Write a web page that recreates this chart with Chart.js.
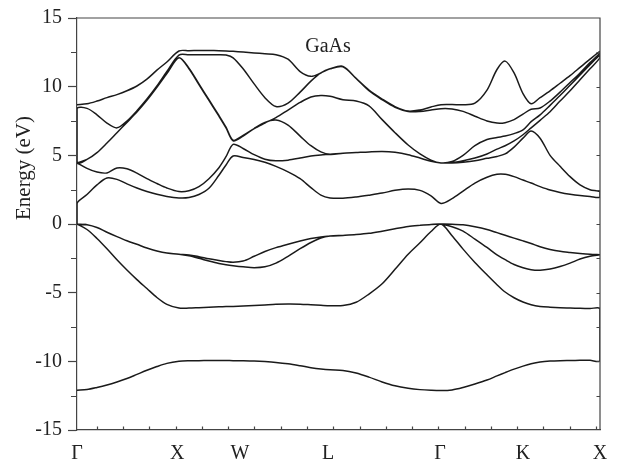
<!DOCTYPE html>
<html>
<head>
<meta charset="utf-8">
<script src="https://cdn.jsdelivr.net/npm/chart.js@4.4.1/dist/chart.umd.min.js"></script>
<style>
html,body{margin:0;padding:0;background:#fff;}
#wrap{width:631px;height:471px;}
</style>
</head>
<body>
<div id="wrap"><canvas id="c" width="631" height="471"></canvas></div>
<script>
// Position of every sample along the Γ-X-W-L-Γ-K-X path
const kpath = [0, 0.38, 0.76, 1.14, 1.52, 1.90, 2.28, 2.66, 3.04, 3.42, 3.88,
  4.26, 4.64, 5.02, 5.40, 5.67, 5.94, 6.32, 6.74, 7.15, 7.57, 8.03, 8.49, 8.90, 9.28, 9.63,
  10.12, 10.62, 11.11, 11.61, 12.10, 12.60, 13.05, 13.47, 13.85,
  14.27, 14.69, 15.14, 15.60, 15.98, 16.29, 16.63, 16.97, 17.28, 17.62, 18.00, 18.38, 18.76, 19.14, 19.52, 19.90];

// High-symmetry points
const symLabels = ['Γ', 'X', 'W', 'L', 'Γ', 'K', 'X'];
const symPos = [0, 3.81, 6.20, 9.55, 13.81, 16.97, 19.90];

// Energy axis labels (eV)
const energyTicks = [-15, -10, -5, 0, 5, 10, 15];

// Band energies (eV) at each kpath sample
const band1 = [-12.1, -12.05, -11.9, -11.72, -11.5, -11.25, -10.95, -10.65, -10.38, -10.15, -10.0,
  -9.96, -9.95, -9.94, -9.94, -9.94, -9.95, -9.96, -9.98, -10.02, -10.08, -10.18, -10.32, -10.46, -10.56, -10.62,
  -10.66, -10.85, -11.15, -11.5, -11.78, -11.96, -12.06, -12.11, -12.13,
  -12.08, -11.9, -11.65, -11.36, -11.06, -10.82, -10.57, -10.35, -10.18, -10.05, -9.98, -9.95, -9.94, -9.93, -9.93, -9.93];
const band2 = [0, -0.4, -1.05, -1.8, -2.6, -3.35, -4.05, -4.7, -5.35, -5.85, -6.12,
  -6.12, -6.09, -6.06, -6.03, -6.01, -6.0, -5.97, -5.93, -5.89, -5.85, -5.83, -5.84, -5.88, -5.92, -5.95,
  -5.94, -5.7, -5.1, -4.35, -3.3, -2.2, -1.36, -0.55, 0,
  -0.85, -1.83, -2.8, -3.7, -4.42, -4.95, -5.37, -5.68, -5.88, -6.0, -6.06, -6.1, -6.12, -6.14, -6.16, -6.17];
const band3 = [0, -0.05, -0.25, -0.6, -0.92, -1.22, -1.48, -1.75, -1.97, -2.12, -2.2,
  -2.32, -2.5, -2.7, -2.88, -2.97, -3.04, -3.12, -3.18, -3.12, -2.85, -2.35, -1.8, -1.35, -1.02, -0.88,
  -0.83, -0.77, -0.68, -0.52, -0.35, -0.19, -0.1, -0.03, 0,
  -0.2, -0.52, -1.1, -1.71, -2.25, -2.6, -2.95, -3.18, -3.33, -3.37, -3.28, -3.1, -2.85, -2.55, -2.35, -2.24];
const band4 = [0, -0.05, -0.25, -0.6, -0.92, -1.22, -1.48, -1.75, -1.97, -2.12, -2.2,
  -2.25, -2.38, -2.53, -2.66, -2.74, -2.79, -2.7, -2.35, -2.0, -1.72, -1.47, -1.24, -1.06, -0.94, -0.88,
  -0.83, -0.77, -0.68, -0.52, -0.35, -0.19, -0.1, -0.03, 0,
  -0.01, -0.06, -0.2, -0.4, -0.63, -0.82, -1.03, -1.23, -1.42, -1.65, -1.85, -1.99, -2.07, -2.14, -2.2, -2.24];
const band5 = [1.5, 2.15, 2.85, 3.35, 3.25, 2.92, 2.62, 2.37, 2.16, 2.0, 1.9,
  1.93, 2.15, 2.6, 3.55, 4.3, 4.95, 4.85, 4.7, 4.5, 4.2, 3.8, 3.3, 2.65, 2.1, 1.9,
  1.88, 1.97, 2.1, 2.25, 2.45, 2.55, 2.45, 2.05, 1.5,
  1.85, 2.4, 2.98, 3.4, 3.62, 3.62, 3.45, 3.2, 2.98, 2.72, 2.47, 2.3, 2.17, 2.07, 2.0, 1.95];
const band6 = [4.45, 4.05, 3.78, 3.72, 4.08, 4.02, 3.7, 3.3, 2.95, 2.62, 2.36,
  2.42, 2.72, 3.3, 4.1, 4.9, 5.8, 5.5, 5.05, 4.72, 4.6, 4.65, 4.8, 4.95, 5.03, 5.07,
  5.15, 5.2, 5.25, 5.28, 5.22, 5.05, 4.8, 4.56, 4.45,
  4.45, 4.5, 4.6, 4.78, 4.92, 5.1, 5.6, 6.25, 6.78, 6.25, 5.0, 4.2, 3.45, 2.85, 2.5, 2.35];
const band7 = [4.45, 4.7, 5.2, 5.9, 6.65, 7.4, 8.15, 9.0, 9.95, 10.95, 12.1,
  11.3, 10.15, 9.0, 7.85, 7.0, 6.05, 6.4, 6.95, 7.4, 7.57, 7.2, 6.4, 5.7, 5.25, 5.07,
  5.15, 5.2, 5.25, 5.28, 5.22, 5.05, 4.8, 4.56, 4.45,
  4.47, 4.6, 4.8, 5.1, 5.45, 5.7, 6.05, 6.5, 7.0, 7.55, 8.17, 8.95, 9.7, 10.5, 11.3, 12.1];
const band8 = [4.45, 4.7, 5.2, 5.9, 6.65, 7.4, 8.15, 9.0, 9.95, 10.95, 12.1,
  11.35, 10.2, 9.05, 7.9, 7.05, 6.1, 6.45, 6.95, 7.35, 7.75, 8.3, 8.85, 9.25, 9.36, 9.3,
  9.05, 8.95, 8.6, 7.6, 6.65, 5.75, 5.1, 4.65, 4.45,
  4.55, 5.0, 5.7, 6.15, 6.3, 6.4, 6.58, 6.85, 7.45, 7.95, 8.64, 9.35, 10.1, 10.85, 11.6, 12.3];
const band9 = [8.4, 8.42, 7.95, 7.35, 7.0, 7.5, 8.25, 9.1, 10.05, 11.1, 12.3,
  12.32, 12.33, 12.33, 12.33, 12.3, 12.1, 11.3, 10.2, 9.2, 8.55, 8.8, 9.6, 10.4, 11.0, 11.3,
  11.45, 10.6, 9.7, 9.05, 8.5, 8.2, 8.2, 8.3, 8.4,
  8.38, 8.2, 7.85, 7.5, 7.35, 7.38, 7.6, 8.0, 8.36, 8.45, 8.95, 9.6, 10.3, 11.0, 11.75, 12.45];
const band10 = [8.69, 8.75, 8.95, 9.2, 9.42, 9.7, 10.05, 10.55, 11.2, 11.8, 12.6,
  12.62, 12.63, 12.63, 12.62, 12.6, 12.57, 12.52, 12.46, 12.4, 12.33, 12.0, 11.1, 10.75, 11.0, 11.3,
  11.48, 10.6, 9.75, 9.1, 8.55, 8.22, 8.3, 8.52, 8.69,
  8.7, 8.68, 8.8, 9.75, 11.25, 11.86, 11.0, 9.5, 8.76, 9.2, 9.7, 10.25, 10.8, 11.4, 12.0, 12.57];

const bands = [band1, band2, band3, band4, band5, band6, band7, band8, band9, band10];

// One continuous trace: odd bands run left to right, even bands return right to left
const trace = [];
bands.forEach((b, i) => {
  const order = b.map((_, j) => j);
  if (i % 2 === 1) order.reverse();
  order.forEach(j => trace.push({ x: kpath[j], y: b[j] }));
});

// Minor tick positions along the path axis
const pathTicks = Array.from({ length: 20 }, (_, i) => 0.75 + i);

const serif = 'Liberation Serif, Times New Roman, serif';
const ink = '#222';
const axisInk = '#444';

const framePlugin = {
  id: 'frame',
  afterDraw(chart) {
    const { ctx, chartArea: a, scales: { x, y } } = chart;
    ctx.save();
    ctx.strokeStyle = axisInk;
    ctx.lineWidth = 1.2;
    ctx.beginPath();
    // top and right edges of the box
    ctx.moveTo(a.left, a.top);
    ctx.lineTo(a.right, a.top);
    ctx.lineTo(a.right, a.bottom);
    // short outward ticks between the labelled energies
    for (let v = -12.5; v < 15; v += 5) {
      const py = Math.round(y.getPixelForValue(v)) + 0.5;
      ctx.moveTo(a.left - 6, py);
      ctx.lineTo(a.left, py);
    }
    // inward ticks on the right edge
    for (let v = -12.5; v <= 12.5; v += 2.5) {
      const py = Math.round(y.getPixelForValue(v)) + 0.5;
      ctx.moveTo(a.right - 3.5, py);
      ctx.lineTo(a.right, py);
    }
    // inward ticks on the bottom edge
    pathTicks.forEach(v => {
      const px = Math.round(x.getPixelForValue(v)) + 0.5;
      ctx.moveTo(px, a.bottom);
      ctx.lineTo(px, a.bottom - 3.5);
    });
    ctx.stroke();

    ctx.fillStyle = ink;
    ctx.font = '20px ' + serif;
    ctx.textAlign = 'center';
    ctx.textBaseline = 'middle';
    ctx.fillText('GaAs', x.getPixelForValue(9.55), y.getPixelForValue(12.93));

    ctx.translate(24, 168);
    ctx.rotate(-Math.PI / 2);
    ctx.font = '21px ' + serif;
    ctx.fillText('Energy (eV)', 0, 0);
    ctx.restore();
  }
};

new Chart(document.getElementById('c'), {
  type: 'scatter',
  data: {
    datasets: [{
      data: trace,
      showLine: true,
      borderColor: '#1a1a1a',
      borderWidth: 1.5,
      pointRadius: 0,
      pointHoverRadius: 0,
      tension: 0.3,
      fill: false
    }]
  },
  options: {
    responsive: false,
    animation: false,
    devicePixelRatio: 1,
    layout: { padding: { top: 11, right: 31, left: 0, bottom: 0 } },
    plugins: { legend: { display: false }, tooltip: { enabled: false } },
    scales: {
      x: {
        type: 'linear',
        min: 0,
        max: 19.9,
        afterBuildTicks: s => { s.ticks = symPos.map(v => ({ value: v })); },
        afterFit: s => { s.height = 41; },
        ticks: {
          callback: (v, i) => symLabels[i],
          autoSkip: false,
          maxRotation: 0,
          padding: 12,
          color: ink,
          font: { family: serif, size: 20 }
        },
        grid: { display: true, drawOnChartArea: false, drawTicks: false },
        border: { display: true, color: axisInk, width: 1.2 }
      },
      y: {
        min: -15,
        max: 15,
        afterBuildTicks: s => { s.ticks = energyTicks.map(v => ({ value: v })); },
        afterFit: s => { s.width = 77; },
        ticks: {
          padding: 6,
          color: ink,
          font: { family: serif, size: 20 }
        },
        grid: { drawOnChartArea: false, drawTicks: true, tickLength: 9, tickColor: axisInk, tickWidth: 1.2 },
        border: { display: true, color: axisInk, width: 1.2 }
      }
    }
  },
  plugins: [framePlugin]
});
</script>
</body>
</html>
